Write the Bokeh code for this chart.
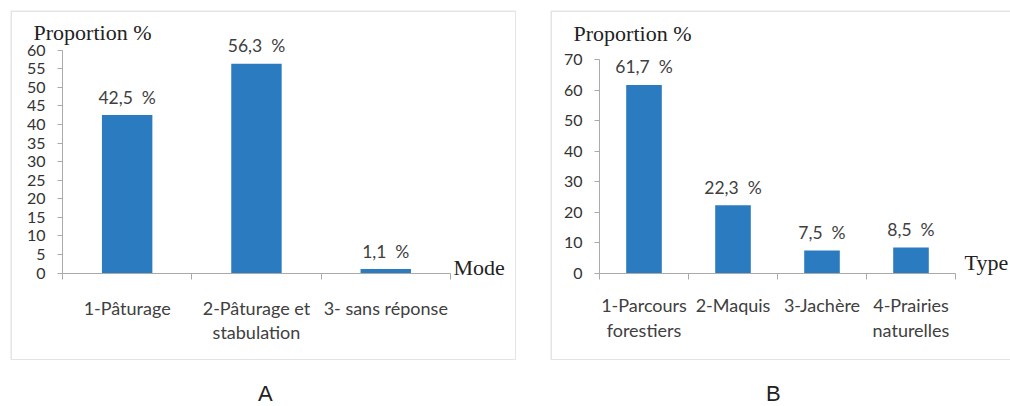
from bokeh.plotting import figure
from bokeh.models import (Range1d, FixedTicker, Label, Div, ColumnDataSource,
                          LinearAxis, BoxAnnotation)
from bokeh.layouts import row, column
from bokeh.core.properties import value
from bokeh.embed import file_html
from bokeh.resources import INLINE

# ---- data ----
modes = ["1-Pâturage", "2-Pâturage et\nstabulation", "3- sans réponse"]
mode_values = [42.5, 56.3, 1.1]
mode_yticks = [0, 5, 10, 15, 20, 25, 30, 35, 40, 45, 50, 55, 60]

types = ["1-Parcours\nforestiers", "2-Maquis", "3-Jachère", "4-Prairies\nnaturelles"]
type_values = [61.7, 22.3, 7.5, 8.5]
type_yticks = [0, 10, 20, 30, 40, 50, 60, 70]

BAR = "#2b7bc0"
AXIS = "#aaaaaa"
BOX = "#a6a6a6"
TXT = "#404040"
SANS = "Lato"
SERIF = "Liberation Serif"


def panel(cats, vals, yticks, width, height, xr, yr, bar_w, ylab_pos, xlab, xlab_pos,
          xstandoff, open_right):
    n = len(cats)
    p = figure(width=width, height=height, output_backend="svg", toolbar_location=None,
               x_range=Range1d(*xr), y_range=Range1d(*yr), min_border=0)
    p.outline_line_color = None
    p.grid.visible = False
    p.xaxis.visible = False
    p.yaxis.visible = False

    # frame box (right side left open for the clipped panel)
    p.add_layout(BoxAnnotation(left=xr[0], right=xr[1] + (5 if open_right else 0),
                               bottom=yr[0], top=yr[1], fill_color=None,
                               line_color=BOX, line_width=3))

    xs = [i + 0.5 for i in range(n)]
    labels = [f"{v:.1f}".replace(".", ",") + "\u00a0\u00a0%" for v in vals]
    src = ColumnDataSource(dict(x=xs, top=vals, lab=labels))
    p.vbar(x="x", top="top", bottom=0, width=bar_w, source=src,
           fill_color=BAR, line_color=None)
    p.text(x="x", y="top", text="lab", source=src, text_align="center",
           text_baseline="middle", y_offset=-18, text_font=value(SANS),
           text_font_size="17.5px", text_color=TXT)

    xa = LinearAxis(ticker=FixedTicker(ticks=xs, minor_ticks=list(range(n + 1))),
                    major_label_overrides={x: c for x, c in zip(xs, cats)},
                    fixed_location=0, bounds=(0, n))
    xa.axis_line_color = AXIS
    xa.major_tick_line_color = None
    xa.major_tick_in = 0
    xa.major_tick_out = 0
    xa.minor_tick_line_color = AXIS
    xa.minor_tick_in = 0
    xa.minor_tick_out = 6
    xa.major_label_standoff = xstandoff
    xa.major_label_text_font = SANS
    xa.major_label_text_font_size = "18px"
    xa.major_label_text_color = TXT
    xa.major_label_text_line_height = 1.1
    p.add_layout(xa, "below")

    ya = LinearAxis(ticker=FixedTicker(ticks=yticks, minor_ticks=[]),
                    fixed_location=0, bounds=(0, yticks[-1]))
    ya.axis_line_color = AXIS
    ya.major_tick_line_color = AXIS
    ya.major_tick_in = 0
    ya.major_tick_out = 5
    ya.minor_tick_line_color = None
    ya.major_label_standoff = 12
    ya.major_label_text_font = SANS
    ya.major_label_text_font_size = "16px"
    ya.major_label_text_color = "#333333"
    p.add_layout(ya, "left")

    p.add_layout(Label(x=ylab_pos[0], y=ylab_pos[1], text="Proportion %",
                       text_font=SERIF, text_font_size="22px", text_color="#222222",
                       text_baseline="middle", text_align="left"))
    p.add_layout(Label(x=xlab_pos[0], y=xlab_pos[1], text=xlab,
                       text_font=SERIF, text_font_size="22px", text_color="#222222",
                       text_baseline="middle", text_align="left"))
    return p


pA = panel(modes, mode_values, mode_yticks, 506, 350,
           (-0.4022, 3.511), (-23.47, 70.62), 0.39,
           (-0.224, 64.7), "Mode", (3.024, 1.53), 18, False)
pA.margin = (10, 0, 0, 10)

pB = panel(types, type_values, type_yticks, 460, 350,
           (-0.5506, 4.618), (-28.46, 86.03), 0.40,
           (-0.292, 78.5), "Type", (4.101, 3.6), 15, True)
pB.margin = (10, 0, 0, 34)

lab_style = {"font-size": "22px", "line-height": "22px",
             "font-family": "'Liberation Sans', sans-serif", "color": "#222222"}
dA = Div(text="A", width=20, height=22, margin=(23, 0, 0, 258), styles=lab_style)
dB = Div(text="B", width=20, height=22, margin=(23, 0, 0, 488), styles=lab_style)

layout = column(row(pA, pB, spacing=0), row(dA, dB, spacing=0), spacing=0)

open("out.html", "w").write(file_html(layout, INLINE))
